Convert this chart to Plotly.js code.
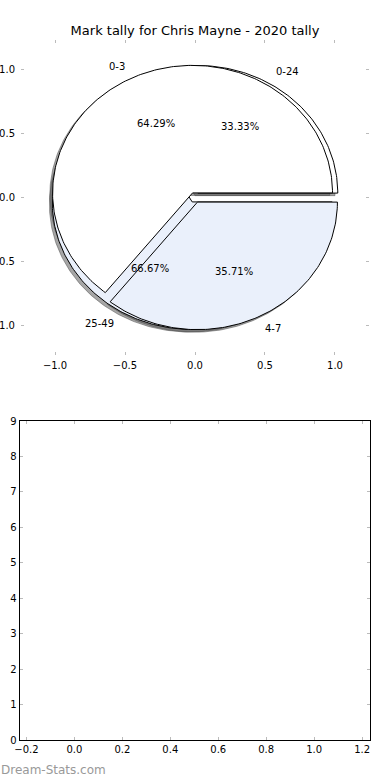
<!DOCTYPE html>
<html><head><meta charset="utf-8">
<script src="https://cdn.plot.ly/plotly-3.0.1.min.js"></script>
<style>html,body{margin:0;padding:0;background:#fff}#chart{width:390px;height:780px}</style>
</head><body><div id="chart"></div>
<script>
// ---- data ----
const titleText = 'Mark tally for Chris Mayne - 2020 tally';
const pie1Labels = ['0-3', '4-7'];
const pie1Values = [9, 5];
const pie2Labels = ['0-24', '25-49'];
const pie2Values = [1, 2];
const sliceColors = ['#ffffff', '#eaf0fb'];
const topTicks = [-1, -0.5, 0, 0.5, 1];
const bottomXTicks = [-0.2, 0, 0.2, 0.4, 0.6, 0.8, 1.0, 1.2];
const bottomYTicks = [0, 1, 2, 3, 4, 5, 6, 7, 8, 9];
const watermark = 'Dream-Stats.com';

// ---- style ----
const explode = 0.04;
const shadowOff = [-0.02, -0.02];
const FONT = 'DejaVu Sans, sans-serif';
const W = 390, H = 780;

function wedges(values) {
  const total = values.reduce((a, b) => a + b, 0);
  let start = 0;
  return values.map(v => {
    const span = 360 * v / total;
    const t1 = start, t2 = start + span;
    start = t2;
    const tm = (t1 + t2) / 2 * Math.PI / 180;
    return { t1, t2, tm, frac: v / total,
      cx: explode * Math.cos(tm), cy: explode * Math.sin(tm) };
  });
}
function poly(w, dx, dy) {
  const xs = [w.cx + dx], ys = [w.cy + dy];
  const n = Math.max(8, Math.ceil((w.t2 - w.t1) / 1));
  for (let i = 0; i <= n; i++) {
    const t = (w.t1 + (w.t2 - w.t1) * i / n) * Math.PI / 180;
    xs.push(w.cx + dx + Math.cos(t));
    ys.push(w.cy + dy + Math.sin(t));
  }
  xs.push(w.cx + dx); ys.push(w.cy + dy);
  return { xs, ys };
}

const w1 = wedges(pie1Values);
const w2 = wedges(pie2Values);
const traces = [];
const annotations = [];

// shadows (all below wedges)
[w2, w1].forEach(ws => ws.forEach(w => {
  const p = poly(w, shadowOff[0], shadowOff[1]);
  traces.push({ type: 'scatter', mode: 'lines', x: p.xs, y: p.ys, fill: 'toself',
    fillcolor: 'rgba(77,77,77,0.5)', line: { color: 'rgba(77,77,77,0.5)', width: 1 },
    hoverinfo: 'skip', showlegend: false, xaxis: 'x', yaxis: 'y' });
}));
// wedges: pie2 first, then pie1 on top
[[w2, pie2Labels], [w1, pie1Labels]].forEach(([ws, labels]) => ws.forEach((w, i) => {
  const p = poly(w, 0, 0);
  traces.push({ type: 'scatter', mode: 'lines', x: p.xs, y: p.ys, fill: 'toself',
    fillcolor: sliceColors[i], line: { color: '#000000', width: 1 },
    hoverinfo: 'skip', showlegend: false, xaxis: 'x', yaxis: 'y' });
  const lx = w.cx + 1.1 * Math.cos(w.tm), ly = w.cy + 1.1 * Math.sin(w.tm);
  annotations.push({ xref: 'x', yref: 'y', x: lx, y: ly, text: labels[i], showarrow: false,
    xanchor: lx > 0 ? 'left' : 'right', yanchor: 'middle', borderpad: 0,
    font: { family: FONT, size: 10, color: '#000' } });
  const px = w.cx + 0.6 * Math.cos(w.tm), py = w.cy + 0.6 * Math.sin(w.tm);
  annotations.push({ xref: 'x', yref: 'y', x: px, y: py, text: (w.frac * 100).toFixed(2) + '%',
    showarrow: false, xanchor: 'center', yanchor: 'middle', borderpad: 0,
    font: { family: FONT, size: 10, color: '#000' } });
}));

// empty bottom panel (invisible placeholder trace so axes render)
traces.push({ type: 'scatter', mode: 'markers', x: [], y: [], xaxis: 'x2', yaxis: 'y2',
  showlegend: false, hoverinfo: 'skip' });

annotations.push({ xref: 'paper', yref: 'paper', x: 0, y: 1 - 770 / H, text: watermark,
  showarrow: false, xanchor: 'left', yanchor: 'middle', borderpad: 0,
  font: { family: FONT, size: 12, color: '#999999' } });

const tickFont = { family: FONT, size: 10, color: '#000' };
const layout = {
  width: W, height: H,
  margin: { l: 0, r: 0, t: 0, b: 0 },
  paper_bgcolor: '#fff', plot_bgcolor: 'rgba(0,0,0,0)',
  showlegend: false,
  title: { text: titleText, x: 0.5, xanchor: 'center', xref: 'paper',
    y: 1 - 30 / H, yanchor: 'middle', yref: 'container',
    font: { family: FONT, size: 13, color: '#000' } },
  xaxis: { domain: [21 / W, 369 / W], range: [-1.243, 1.243], tickvals: topTicks,
    tickformat: '.1f', ticks: 'inside', ticklen: 3, tickcolor: '#bbbbbb', tickwidth: 1,
    mirror: 'ticks', showline: false, showgrid: false, zeroline: false,
    ticklabelstandoff: 3,
    tickfont: tickFont, fixedrange: true, anchor: 'y' },
  yaxis: { domain: [1 - 355 / H, 1 - 40 / H], range: [-1.235, 1.235], tickvals: topTicks,
    tickformat: '.1f', ticks: 'inside', ticklen: 3, tickcolor: '#bbbbbb', tickwidth: 1,
    mirror: 'ticks', showline: false, showgrid: false, zeroline: false,
    ticklabelstandoff: 5,
    tickfont: tickFont, fixedrange: true, anchor: 'x' },
  xaxis2: { domain: [19.5 / W, 370 / W], range: [-0.229, 1.233], tickvals: bottomXTicks,
    tickformat: '.1f', ticks: 'inside', ticklen: 3, tickcolor: '#bbbbbb', tickwidth: 1,
    mirror: 'ticks', showline: true, linecolor: '#000', linewidth: 1,
    showgrid: false, zeroline: false, tickfont: tickFont, fixedrange: true, anchor: 'y2' },
  yaxis2: { domain: [1 - 740 / H, 1 - 421 / H], range: [0, 9], tickvals: bottomYTicks,
    ticks: 'inside', ticklen: 3, tickcolor: '#bbbbbb', tickwidth: 1,
    mirror: 'ticks', showline: true, linecolor: '#000', linewidth: 1,
    showgrid: false, zeroline: false, tickfont: tickFont, fixedrange: true, anchor: 'x2' },
  annotations: annotations
};
Plotly.newPlot('chart', traces, layout, { displayModeBar: false, staticPlot: true });
</script>
</body></html>
